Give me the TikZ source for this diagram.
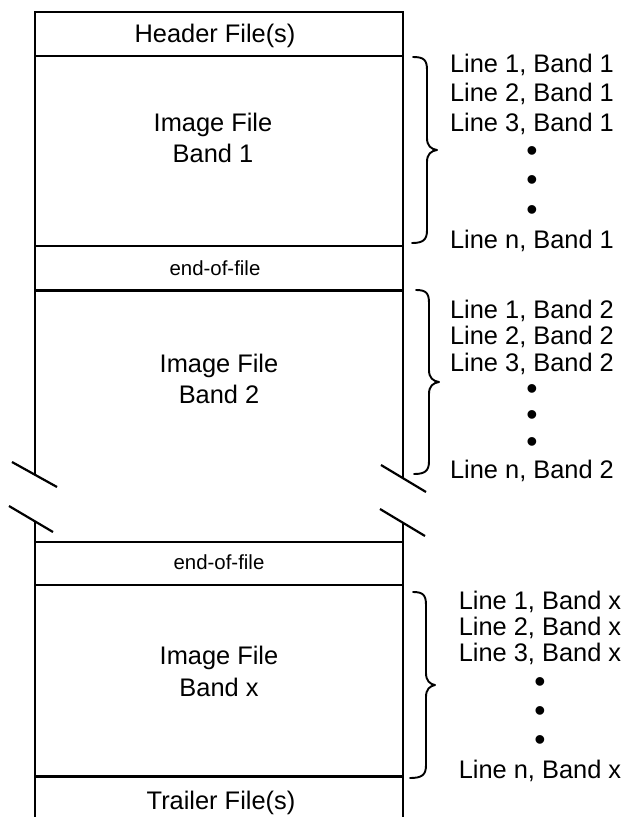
\documentclass[tikz,border=0pt]{standalone}
\usepackage{fontspec}
\setmainfont{Liberation Sans}
\begin{document}
\begin{tikzpicture}[x=1pt,y=-1pt,
  box/.style={line width=2.2pt},
  heavy/.style={line width=3pt},
  brc/.style={line width=1.9pt, line cap=round, line join=round},
  lbl/.style={anchor=base, inner sep=0pt, font=\fontsize{25.4}{30}\selectfont},
  dot/.style={anchor=center, inner sep=0pt, font=\fontsize{32}{34}\selectfont},
  small/.style={anchor=base, inner sep=0pt, font=\fontsize{20.4}{24}\selectfont}]
\useasboundingbox (0,0) rectangle (629,817);
% outer walls
\draw[box] (35,474) -- (35,12) -- (403,12) -- (403,478);
\draw[box] (35,521) -- (35,820);
\draw[box] (403,523) -- (403,820);
% separators
\draw[box] (35,56) -- (403,56);
\draw[box] (35,246) -- (403,246);
\draw[heavy] (35,290) -- (403,290);
\draw[box] (35,542) -- (403,542);
\draw[box] (35,585) -- (403,585);
\draw[heavy] (35,776) -- (403,776);
% break marks
\draw[box] (12,462) -- (57,487);
\draw[box] (9,506) -- (53,532);
\draw[box] (381,465) -- (426,492);
\draw[box] (380,509) -- (425,536);
% box labels
\node[lbl] (header) at (215,42) {Header File(s)};
\node[lbl] (img1a) at (213,131) {Image File};
\node[lbl] (img1b) at (213,162) {Band 1};
\node[small] (eof1) at (215,275) {end-of-file};
\node[lbl] (img2a) at (219,372) {Image File};
\node[lbl] (img2b) at (219,403) {Band 2};
\node[small] (eof2) at (219,569) {end-of-file};
\node[lbl] (imgxa) at (219,664) {Image File};
\node[lbl] (imgxb) at (219,696) {Band x};
\node[lbl] (trailer) at (221,809) {Trailer File(s)};
% braces
\draw[brc] (413,57) .. controls (424,57) and (427,60) .. (427,70) -- (427,138)
  .. controls (427,146) and (431,149) .. (437,150)
  .. controls (431,151) and (427,154) .. (427,162) -- (427,230)
  .. controls (427,240) and (423,243) .. (412,243);
\draw[brc] (416,290) .. controls (426,290) and (429,293) .. (429,303) -- (429,370)
  .. controls (429,378) and (433,381) .. (439,382)
  .. controls (433,383) and (429,386) .. (429,394) -- (429,461)
  .. controls (429,471) and (425,474) .. (414,474);
\draw[brc] (413,592) .. controls (423,592) and (426,595) .. (426,605) -- (426,673)
  .. controls (426,681) and (430,684) .. (435,685)
  .. controls (430,686) and (426,689) .. (426,697) -- (426,765)
  .. controls (426,775) and (422,778) .. (410,778);
% band 1 lines
\node[lbl] (l1b1) at (532,72) {Line 1, Band 1};
\node[lbl] (l2b1) at (532,101) {Line 2, Band 1};
\node[lbl] (l3b1) at (532,131) {Line 3, Band 1};
\node[dot] (d1b1) at (532,150) {\raisebox{-0.36em}[0.1em][0.1em]{•}};
\node[dot] (d2b1) at (532,179) {\raisebox{-0.36em}[0.1em][0.1em]{•}};
\node[dot] (d3b1) at (532,209) {\raisebox{-0.36em}[0.1em][0.1em]{•}};
\node[lbl] (lnb1) at (532,248) {Line n, Band 1};
% band 2 lines
\node[lbl] (l1b2) at (532,318) {Line 1, Band 2};
\node[lbl] (l2b2) at (532,344) {Line 2, Band 2};
\node[lbl] (l3b2) at (532,371) {Line 3, Band 2};
\node[dot] (d1b2) at (532,388) {\raisebox{-0.36em}[0.1em][0.1em]{•}};
\node[dot] (d2b2) at (532,414) {\raisebox{-0.36em}[0.1em][0.1em]{•}};
\node[dot] (d3b2) at (532,441) {\raisebox{-0.36em}[0.1em][0.1em]{•}};
\node[lbl] (lnb2) at (532,478) {Line n, Band 2};
% band x lines
\node[lbl] (l1bx) at (540,609) {Line 1, Band x};
\node[lbl] (l2bx) at (540,635) {Line 2, Band x};
\node[lbl] (l3bx) at (540,661) {Line 3, Band x};
\node[dot] (d1bx) at (540,681) {\raisebox{-0.36em}[0.1em][0.1em]{•}};
\node[dot] (d2bx) at (540,710) {\raisebox{-0.36em}[0.1em][0.1em]{•}};
\node[dot] (d3bx) at (540,739) {\raisebox{-0.36em}[0.1em][0.1em]{•}};
\node[lbl] (lnbx) at (540,778) {Line n, Band x};
\end{tikzpicture}
\end{document}
